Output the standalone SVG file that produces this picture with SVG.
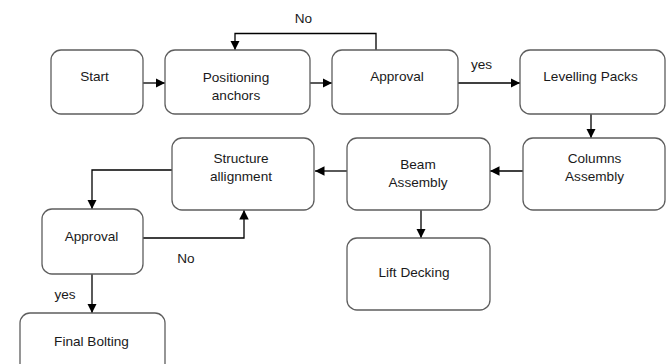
<svg xmlns="http://www.w3.org/2000/svg" width="670" height="364" viewBox="0 0 670 364">
<style>
.box{fill:#fff;stroke:#5e5e5e;stroke-width:1.3}
.t{font-family:"Liberation Sans",Arial,sans-serif;font-size:13.6px;fill:#1a1a1a;text-anchor:middle}
.c{fill:none;stroke:#000;stroke-width:1.3;marker-end:url(#a)}
</style>
<defs>
<marker id="a" viewBox="0 0 10 10" refX="10" refY="5" markerWidth="9.5" markerHeight="9.5" markerUnits="userSpaceOnUse" orient="auto">
<path d="M0,0 L10,5 L0,10 z" fill="#000"/>
</marker>
</defs>
<rect width="670" height="364" fill="#fff"/>
<g id="connectors">
<path class="c" d="M143,83 H165"/>
<path class="c" d="M310,83 H332"/>
<path class="c" d="M376,50 V33.5 H235 V50"/>
<path class="c" d="M458,83 H520"/>
<path class="c" d="M591,114 V138"/>
<path class="c" d="M523,171 H490"/>
<path class="c" d="M347,171 H315"/>
<path class="c" d="M421,210 V238"/>
<path class="c" d="M172,170 H92 V209"/>
<path class="c" d="M143,238 H244 V210"/>
<path class="c" d="M92,274 V313"/>
<text class="t" x="303.5" y="23">No</text>
<text class="t" x="481.5" y="69">yes</text>
<text class="t" x="186" y="263">No</text>
<text class="t" x="65" y="299">yes</text>
</g>
<g id="start"><rect class="box" x="51" y="50" width="92" height="64" rx="10"/><text class="t" x="94.5" y="81">Start</text></g>
<g id="positioning"><rect class="box" x="165" y="50" width="145" height="64" rx="10"/><text class="t" x="236" y="82">Positioning</text><text class="t" x="236" y="100">anchors</text></g>
<g id="approval1"><rect class="box" x="332" y="50" width="126" height="64" rx="10"/><text class="t" x="397" y="81">Approval</text></g>
<g id="levelling"><rect class="box" x="520" y="50" width="145" height="64" rx="10"/><text class="t" x="590.5" y="81">Levelling Packs</text></g>
<g id="columns"><rect class="box" x="523" y="138" width="142" height="72" rx="10"/><text class="t" x="594.5" y="163">Columns</text><text class="t" x="594.5" y="181">Assembly</text></g>
<g id="beam"><rect class="box" x="347" y="138" width="143" height="72" rx="10"/><text class="t" x="418" y="169">Beam</text><text class="t" x="418" y="187">Assembly</text></g>
<g id="lift"><rect class="box" x="347" y="238" width="143" height="72" rx="10"/><text class="t" x="414" y="277">Lift Decking</text></g>
<g id="structure"><rect class="box" x="172" y="138" width="142" height="72" rx="10"/><text class="t" x="241" y="163">Structure</text><text class="t" x="241" y="181">allignment</text></g>
<g id="approval2"><rect class="box" x="42" y="209" width="101" height="65" rx="10"/><text class="t" x="91.5" y="241">Approval</text></g>
<g id="final"><rect class="box" x="20" y="313" width="145" height="64" rx="10"/><text class="t" x="91.5" y="346">Final Bolting</text></g>
</svg>
